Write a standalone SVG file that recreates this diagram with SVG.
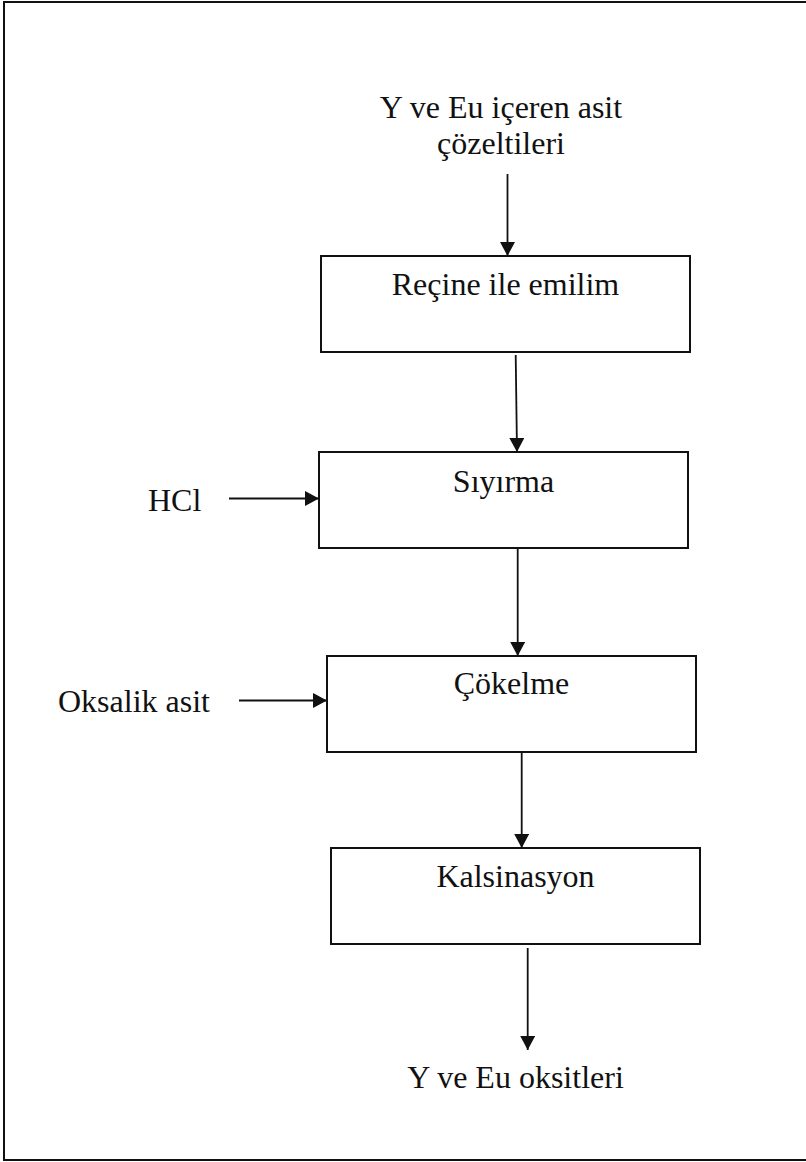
<svg xmlns="http://www.w3.org/2000/svg" width="806" height="1162" viewBox="0 0 806 1162">
  <style>
    .box { fill: #ffffff; stroke: #111; stroke-width: 2; }
    .lbl { font-family: "Liberation Serif", "Times New Roman", serif; font-size: 32px; fill: #111; }
    .mid { text-anchor: middle; }
    .conn { stroke: #111; stroke-width: 1.8; fill: none; marker-end: url(#arr); }
  </style>
  <defs>
    <marker id="arr" markerUnits="userSpaceOnUse" markerWidth="15" markerHeight="16" refX="14" refY="7.5" orient="auto">
      <path d="M0,0 L14,7.5 L0,15 Z" fill="#111"/>
    </marker>
  </defs>
  <rect x="0" y="0" width="806" height="1162" fill="#ffffff"/>
  <rect x="4" y="2" width="820" height="1158" fill="none" stroke="#111" stroke-width="2"/>

  <g id="input">
    <text class="lbl mid" x="501" y="118">Y ve Eu içeren asit</text>
    <text class="lbl mid" x="501" y="154">çözeltileri</text>
  </g>
  <g id="resin">
    <rect class="box" x="321" y="256" width="369" height="96"/>
    <text class="lbl mid" x="505.5" y="295">Reçine ile emilim</text>
  </g>
  <g id="stripping">
    <rect class="box" x="319" y="452" width="369" height="96"/>
    <text class="lbl mid" x="503.5" y="492">Sıyırma</text>
  </g>
  <g id="hcl">
    <text class="lbl" x="148" y="511">HCl</text>
  </g>
  <g id="precipitation">
    <rect class="box" x="327" y="656" width="369" height="96"/>
    <text class="lbl mid" x="511.5" y="694">Çökelme</text>
  </g>
  <g id="oxalic">
    <text class="lbl" x="58" y="712">Oksalik asit</text>
  </g>
  <g id="calcination">
    <rect class="box" x="331" y="848" width="369" height="96"/>
    <text class="lbl mid" x="515.5" y="887">Kalsinasyon</text>
  </g>
  <g id="output">
    <text class="lbl mid" x="515.5" y="1088">Y ve Eu oksitleri</text>
  </g>

  <g id="connectors">
    <line class="conn" x1="507.5" y1="174" x2="507.5" y2="256"/>
    <line class="conn" x1="515.7" y1="355" x2="517" y2="452"/>
    <line class="conn" x1="229" y1="498.5" x2="319" y2="498.5"/>
    <line class="conn" x1="517.7" y1="548" x2="517.7" y2="656"/>
    <line class="conn" x1="239" y1="700.5" x2="327" y2="700.5"/>
    <line class="conn" x1="521.7" y1="752" x2="521.7" y2="848"/>
    <line class="conn" x1="527.7" y1="948" x2="527.7" y2="1050"/>
  </g>
</svg>
